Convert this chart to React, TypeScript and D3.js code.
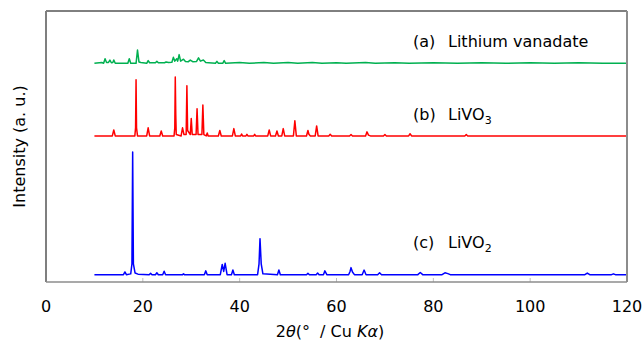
import * as d3 from "d3";

// ── Data ──────────────────────────────────────────────────────
// 2θ (deg) and intensity (a.u., above each trace's own baseline)
const X_TICKS = [0, 20, 40, 60, 80, 100, 120];

const LABELS = ["(a)", "(b)", "(c)"];
const NAMES = ["Lithium vanadate", "LiVO", "LiVO"];
const SUBS = ["", "3", "2"];
const COLORS = ["#00b050", "#ff0000", "#0000ff"];
const OFFSETS = [80.7, 53.9, 2.7];
const LABEL_Y = [47, 120, 248];

const TRACE_A: [number, number][] = [
  [10, 0], [11.5, 0.3], [11.9, 0], [12.2, 1.7], [12.5, 0.3], [12.9, 0.3], [13.2, 1.2], [13.5, 0.2],
  [13.8, 0.3], [14.0, 1.2], [14.3, 0], [16.9, 0], [17.2, 1.7], [17.5, 0], [18.6, 0], [18.9, 4.9],
  [19.2, 0.5], [19.6, 0.3], [20.8, 0], [21.1, 1.0], [21.4, 0.2], [22.6, 0.2], [22.9, 0.7], [23.2, 0.2],
  [24.5, 0.2], [24.8, 0.5], [25.3, 0.3], [26.0, 0.4], [26.3, 2.2], [26.6, 0.8], [27.0, 1.7], [27.2, 0.8],
  [27.5, 3.2], [27.8, 0.8], [28.4, 1.5], [28.8, 0.7], [29.4, 0.6], [29.8, 1.2], [30.3, 0.6], [31.1, 0.7],
  [31.5, 2.0], [31.9, 0.8], [32.5, 1.2], [33.0, 0.3], [33.6, 0.2], [35.0, 0], [35.3, 0.7], [35.6, 0],
  [36.5, 0], [36.8, 1.0], [37.1, 0], [40, 0.3], [42, 0], [45, 0.3], [47, 0], [50, 0.3], [52, 0],
  [55, 0.3], [57, 0], [60, 0.2], [62, 0], [66, 0.3], [68, 0], [72, 0.2], [75, 0], [80, 0.2], [85, 0],
  [90, 0.2], [95, 0], [100, 0.2], [105, 0], [110, 0.2], [115, 0], [120, 0],
];

const TRACE_B: [number, number][] = [
  [10, 0], [13.7, 0], [14.0, 2.2], [14.3, 0], [18.35, 0], [18.5, 3], [18.6, 20.7], [18.7, 3], [18.9, 0],
  [20.8, 0], [21.1, 3.0], [21.4, 0], [23.5, 0], [23.8, 1.8], [24.1, 0], [26.45, 0], [26.6, 3],
  [26.7, 21.7], [26.8, 8], [26.9, 0.5], [27.9, 0], [28.2, 3.0], [28.5, 0.5], [28.95, 0.5], [29.1, 18.5],
  [29.25, 2], [29.8, 0.5], [30.0, 6.4], [30.2, 0.5], [31.0, 0.5], [31.2, 10.0], [31.4, 0.5], [32.2, 0.5],
  [32.4, 11.4], [32.6, 0.5], [33.1, 0], [33.3, 1.1], [33.5, 0], [35.6, 0], [35.9, 2.0], [36.2, 0],
  [38.5, 0], [38.8, 2.7], [39.1, 0], [40.2, 0], [40.4, 0.7], [40.6, 0], [41.3, 0], [41.5, 0.6], [41.7, 0],
  [42.9, 0], [43.1, 0.6], [43.3, 0], [45.8, 0], [46.1, 2.2], [46.4, 0], [47.4, 0], [47.7, 1.8], [48.0, 0],
  [48.7, 0], [49.0, 2.7], [49.3, 0], [51.1, 0], [51.4, 5.6], [51.7, 0], [53.8, 0], [54.1, 2.0],
  [54.3, 0.6], [54.6, 0], [55.6, 0], [55.9, 3.7], [56.2, 0], [58.4, 0], [58.7, 0.6], [59, 0], [62.7, 0],
  [63, 0.5], [63.3, 0], [66.0, 0], [66.3, 1.5], [66.6, 0.3], [67.0, 0], [69.7, 0], [70, 0.5], [70.3, 0],
  [74.9, 0], [75.2, 0.8], [75.5, 0], [86.5, 0], [86.8, 0.5], [87.1, 0], [120, 0],
];

const TRACE_C: [number, number][] = [
  [10, 0], [16.0, 0], [16.3, 1.0], [16.6, 0], [17.5, 0.3], [17.75, 4], [17.9, 45.3], [18.05, 4],
  [18.4, 0.6], [19, 0.2], [21.3, 0], [21.6, 0.5], [21.9, 0], [22.6, 0], [22.9, 0.7], [23.2, 0],
  [24.1, 0], [24.4, 1.25], [24.7, 0], [28.2, 0], [28.4, 0.3], [28.6, 0], [32.7, 0], [33.0, 1.4],
  [33.3, 0], [36.0, 0], [36.4, 3.8], [36.7, 1.2], [37.0, 4.2], [37.4, 0], [38.3, 0], [38.6, 1.7],
  [38.9, 0], [43.7, 0], [44.0, 4], [44.2, 13.3], [44.45, 4], [44.8, 0.3], [47.8, 0], [48.1, 1.7],
  [48.4, 0], [53.8, 0], [54.1, 0.5], [54.4, 0], [55.8, 0], [56.1, 0.6], [56.4, 0], [57.3, 0],
  [57.6, 1.4], [58.0, 0], [62.5, 0], [62.8, 1.2], [63.0, 2.6], [63.3, 1.0], [63.7, 0], [65.3, 0],
  [65.7, 1.7], [66.1, 0], [68.5, 0], [68.9, 0.7], [69.3, 0], [76.8, 0], [77.3, 0.8], [77.8, 0],
  [81.8, 0], [82.4, 0.7], [83, 0.4], [83.5, 0], [111.3, 0], [111.8, 0.6], [112.3, 0], [116.8, 0],
  [117.2, 0.3], [117.6, 0], [120, 0],
];

const TRACES = [TRACE_A, TRACE_B, TRACE_C];

// ── Layout ────────────────────────────────────────────────────
const W = 643;
const H = 343;
const L = 46;
const R = 627;
const T = 11;
const B = 282;
const FONT = "'DejaVu Sans', Verdana, sans-serif";

export default function App() {
  const x = d3.scaleLinear().domain([0, 120]).range([L, R]);
  const y = d3.scaleLinear().domain([0, 100]).range([B, T]);

  return (
    <svg
      width={W}
      height={H}
      style={{ position: "absolute", left: 0, top: 0, background: "#fff" }}
      fontFamily={FONT}
    >
      {/* traces */}
      {TRACES.map((pts, i) => {
        const line = d3
          .line<[number, number]>()
          .x((d) => x(d[0]))
          .y((d) => y(d[1] + OFFSETS[i]));
        return (
          <path
            key={i}
            d={line(pts) ?? ""}
            fill="none"
            stroke={COLORS[i]}
            strokeWidth={1.5}
            strokeLinejoin="round"
          />
        );
      })}

      {/* inner ticks on the x axis */}
      {X_TICKS.slice(1, -1).map((t) => (
        <line key={t} x1={x(t)} x2={x(t)} y1={B} y2={B - 4} stroke="#bdbdbd" strokeWidth={1} />
      ))}

      {/* plot frame */}
      <line x1={L} x2={R} y1={T} y2={T} stroke="#000" strokeWidth={1} />
      <line x1={L} x2={L} y1={T} y2={B} stroke="#7f7f7f" strokeWidth={2} />
      <line x1={R} x2={R} y1={T} y2={B} stroke="#8c8c8c" strokeWidth={2} />
      <line x1={L} x2={R} y1={B} y2={B} stroke="#8c8c8c" strokeWidth={1.5} />

      {/* tick labels */}
      {X_TICKS.map((t) => (
        <text key={t} x={x(t)} y={312} textAnchor="middle" fontSize={16} fill="#000">
          {t}
        </text>
      ))}

      {/* axis titles */}
      <text x={330} y={337} textAnchor="middle" fontSize={16} fill="#000">
        2<tspan fontStyle="italic">θ</tspan>(°{"\u00a0\u00a0"}/ Cu <tspan fontStyle="italic">Kα</tspan>)
      </text>
      <text
        transform={`translate(25, ${(T + B) / 2}) rotate(-90)`}
        textAnchor="middle"
        fontSize={16}
        fill="#000"
      >
        Intensity (a. u.)
      </text>

      {/* trace labels */}
      {LABELS.map((lab, i) => (
        <text key={lab} x={413} y={LABEL_Y[i]} fontSize={16} fill="#000">
          {lab}
          <tspan x={448}>{NAMES[i]}</tspan>
          {SUBS[i] && (
            <tspan fontSize={11} dy={4}>
              {SUBS[i]}
            </tspan>
          )}
        </text>
      ))}
    </svg>
  );
}
